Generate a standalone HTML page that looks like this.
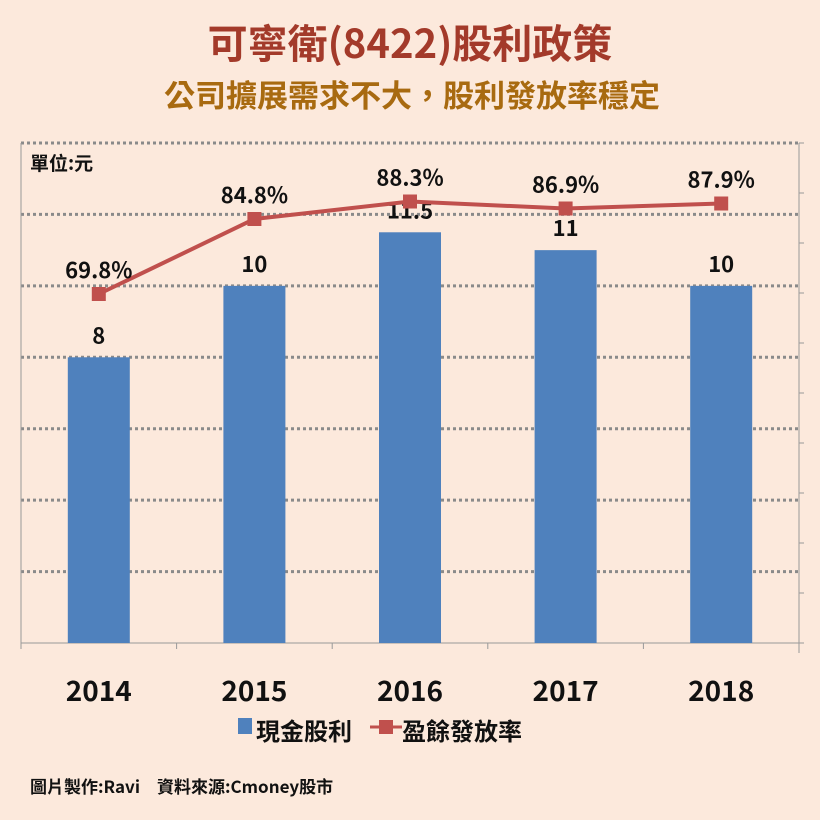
<!DOCTYPE html>
<html><head><meta charset="utf-8"><style>
body{margin:0;background:#fce9dc;}
svg{display:block;font-family:"Noto Sans CJK TC","Liberation Sans",sans-serif;}
</style></head><body>
<svg id="c" width="820" height="820">
<rect width="820" height="820" fill="#fce9dc"/>
<text x="410" y="58" text-anchor="middle" font-size="40" font-weight="bold" fill="#a33a2a">可寧衛(8422)股利政策</text>
<text x="412" y="107" text-anchor="middle" font-size="31" font-weight="bold" fill="#a86a10">公司擴展需求不大，股利發放率穩定</text>
<g id="grid"></g>
<text x="30" y="170" font-size="19" font-weight="bold" fill="#111">單位:元</text>
<g id="bars"></g><g id="line"></g><g id="xl"></g>
<g>
<rect x="238" y="718" width="14" height="16" fill="#4f81bd"/>
<text x="256" y="740" font-size="24" font-weight="bold" fill="#111">現金股利</text>
<line x1="370" y1="727" x2="402" y2="727" stroke="#c0504d" stroke-width="3"/>
<rect x="379" y="720" width="14" height="14" fill="#c0504d"/>
<text x="402" y="740" font-size="24" font-weight="bold" fill="#111">盈餘發放率</text>
</g>
<text x="30" y="793" font-size="17" font-weight="bold" fill="#111">圖片製作:Ravi　資料來源:Cmoney股市</text>
</svg>
<script>
const years=["2014","2015","2016","2017","2018"];
const dividends=[8,10,11.5,11,10];
const payout=[69.8,84.8,88.3,86.9,87.9];
const payoutLabels=["69.8%","84.8%","88.3%","86.9%","87.9%"];
const NS="http://www.w3.org/2000/svg";
const L=21,R=799,T=143,B=643;
const yL=v=>B-(v/14)*(B-T);
const yR=v=>B-(v/100)*(B-T);
const cw=(R-L)/years.length;
const xc=i=>L+cw*(i+0.5);
function mk(p,t,a){const e=document.createElementNS(NS,t);for(const k in a)e.setAttribute(k,a[k]);p.appendChild(e);return e;}
const g=document.getElementById('grid');
for(let v=2;v<=14;v+=2){const l=mk(g,'line',{x1:L,x2:R,y1:yL(v),y2:yL(v),stroke:'#8a8a8a','stroke-width':3,'stroke-dasharray':'3 3'});

}
const ax=mk(g,'line',{x1:L,x2:L,y1:T,y2:B,stroke:'#999','stroke-width':1});


const ax2=mk(g,'line',{x1:R,x2:R,y1:T,y2:B+10,stroke:'#999','stroke-width':1});


const ax3=mk(g,'line',{x1:L,x2:R,y1:B,y2:B,stroke:'#999','stroke-width':1});


for(let v=0;v<=100;v+=10){const t=mk(g,'line',{x1:R,x2:R+5,y1:yR(v),y2:yR(v),stroke:'#999'});

}
for(let i=0;i<=years.length;i++){const t=mk(g,'line',{x1:L+cw*i,x2:L+cw*i,y1:B,y2:B+6,stroke:'#999'});

}
const bg=document.getElementById('bars'),lg=document.getElementById('line'),xg=document.getElementById('xl');
dividends.forEach((v,i)=>{
const r=mk(bg,'rect',{x:xc(i)-31,y:yL(v),width:62,height:B-yL(v),fill:'#4f81bd'});


const t=mk(bg,'text',{x:xc(i),y:yL(v)-14,'text-anchor':'middle','font-size':22,'font-weight':'bold',fill:'#111'});t.textContent=String(v);


const x=mk(xg,'text',{x:xc(i),y:701,'text-anchor':'middle','font-size':28,'font-weight':'bold',fill:'#111'});x.textContent=years[i];


});
const pl=mk(lg,'polyline',{points:payout.map((v,i)=>xc(i)+','+yR(v)).join(' '),fill:'none',stroke:'#c0504d','stroke-width':4});


payout.forEach((v,i)=>{
const m=mk(lg,'rect',{x:xc(i)-7,y:yR(v)-7,width:14,height:14,fill:'#c0504d'});


const t=mk(lg,'text',{x:xc(i),y:yR(v)-16,'text-anchor':'middle','font-size':22,'font-weight':'bold',fill:'#111'});t.textContent=payoutLabels[i];


});
</script>
</body></html>
